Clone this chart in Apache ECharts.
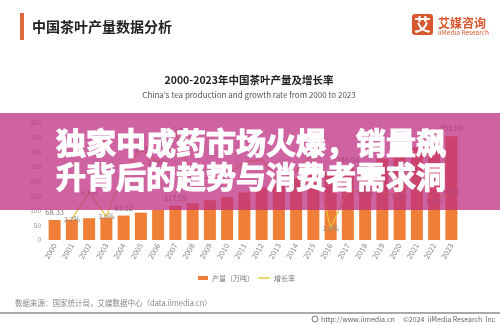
<!DOCTYPE html>
<html>
<head>
<meta charset="utf-8">
<script src="https://cdn.jsdelivr.net/npm/echarts@6/dist/echarts.min.js"></script>
<style>
  html, body { margin: 0; padding: 0; background: #fff; }
  #chart { width: 500px; height: 325px; }
</style>
</head>
<body>
<div id="chart"></div>
<script>
// Years on the category axis
const years = ['2000','2001','2002','2003','2004','2005','2006','2007','2008','2009','2010','2011',
               '2012','2013','2014','2015','2016','2017','2018','2019','2020','2021','2022','2023'];
// Tea output, 10k tonnes
const output = [68.33, 70.17, 74.54, 76.81, 83.52, 93.49, 102.81, 117.05, 125.76, 135.86, 147.51, 162.32,
                179.0, 192.45, 209.57, 227.8, 231.3, 246.04, 261.6, 277.72, 293.18, 316.4, 334.2, 355.00];
// Year-on-year growth, %
const growth = [null, 2.7, 6.1, 3.0, 8.7, 11.6, 10.0, 13.9, 7.9, 8.0, 8.3, 10.0,
                10.3, 7.5, 8.9, 11.1, 1.5, 6.4, 6.1, 6.2, 5.6, 8.0, 5.0, 6.2];
// Years whose values are printed on the chart
const outputLabelYears = ['2000', '2004', '2007', '2017', '2023'];
const growthLabelYears = ['2001', '2002', '2003', '2005', '2006', '2007', '2010', '2015', '2016', '2018', '2020', '2022', '2023'];
// Left axis range
const outputMin = 0, outputMax = 400, outputStep = 50;
const growthMax = 15;

const FONT = '"Noto Sans CJK SC", "Noto Sans", sans-serif';
const BAR = '#ef7f36';
const LINE = '#eac43a';
const BRAND = '#d9572f';

const barData = output.map((v, i) => ({
  value: v,
  label: { show: outputLabelYears.includes(years[i]) }
}));
const lineData = growth.map((v, i) => ({
  value: v,
  label: { show: v !== null && growthLabelYears.includes(years[i]) }
}));

const chart = echarts.init(document.getElementById('chart'), null, { renderer: 'canvas' });

// Bold headline text, thickened with a matching outline
function headline(text, y) {
  return { type: 'text', z: 101, style: { text, x: 56, y, fontSize: 30, fontWeight: 'bold',
    fontFamily: FONT, fill: '#fff', stroke: '#fff', lineWidth: 1.2,
    align: 'left', verticalAlign: 'middle' } };
}

chart.setOption({
  animation: false,
  textStyle: { fontFamily: FONT },
  grid: { left: 46, right: 40, top: 123, bottom: 85 },
  xAxis: {
    type: 'category',
    data: years,
    axisLine: { show: false },
    axisTick: { show: false },
    axisLabel: { rotate: 60, interval: 0, fontSize: 7.5, color: '#888', margin: 4, fontFamily: FONT }
  },
  yAxis: [
    {
      type: 'value', min: outputMin, max: outputMax, interval: outputStep,
      splitLine: { show: false },
      axisLine: { show: false },
      axisTick: { show: false },
      axisLabel: { fontSize: 6.5, color: '#999', margin: 5, fontFamily: FONT }
    },
    { type: 'value', min: 0, max: growthMax, show: false, splitLine: { show: false } }
  ],
  series: [
    {
      name: '产量（万吨）',
      type: 'bar',
      data: barData,
      barWidth: 12,
      itemStyle: { color: BAR },
      label: {
        position: 'top', distance: 4, fontSize: 7.5, color: '#777', fontFamily: FONT,
        formatter: p => p.value.toFixed(2)
      },
      z: 2
    },
    {
      name: '增长率',
      type: 'line',
      yAxisIndex: 1,
      data: lineData,
      symbol: 'circle',
      symbolSize: 0.1,
      itemStyle: { color: LINE },
      lineStyle: { color: LINE, width: 1.2 },
      label: {
        position: 'inside', fontSize: 7, color: '#888', fontFamily: FONT,
        formatter: p => p.value.toFixed(1) + '%'
      },
      z: 3
    }
  ],
  graphic: [
    // page header
    { type: 'rect', shape: { x: 20, y: 13, width: 4, height: 27 }, style: { fill: '#e0693c' } },
    { type: 'text', style: { text: '中国茶叶产量数据分析', x: 32, y: 27, fontSize: 14, fontWeight: 'bold',
        fontFamily: FONT, fill: '#222', align: 'left', verticalAlign: 'middle' } },
    // brand mark
    { type: 'rect', shape: { x: 412, y: 14, width: 21, height: 21, r: 3 }, style: { fill: BRAND } },
    { type: 'text', style: { text: '艾', x: 422.5, y: 24.5, fontSize: 17, fontWeight: 'bold',
        fontFamily: FONT, fill: '#fff', align: 'center', verticalAlign: 'middle' } },
    { type: 'text', style: { text: '艾媒咨询', x: 438, y: 23, fontSize: 12, fontWeight: 'bold',
        fontFamily: FONT, fill: BRAND, align: 'left', verticalAlign: 'middle' } },
    { type: 'text', style: { text: 'iiMedia Research', x: 438, y: 33, fontSize: 6.5,
        fontFamily: FONT, fill: BRAND, align: 'left', verticalAlign: 'middle' } },
    // chart titles
    { type: 'text', style: { text: '2000-2023年中国茶叶产量及增长率', x: 249, y: 80, fontSize: 10.5, fontWeight: 'bold',
        fontFamily: FONT, fill: '#222', align: 'center', verticalAlign: 'middle' } },
    { type: 'text', style: { text: "China's tea production and growth rate from 2000 to 2023", x: 249, y: 95, fontSize: 8,
        fontFamily: FONT, fill: '#555', align: 'center', verticalAlign: 'middle' } },
    // legend
    { type: 'rect', shape: { x: 198, y: 276, width: 10, height: 4 }, style: { fill: BAR } },
    { type: 'text', style: { text: '产量（万吨）', x: 212, y: 278, fontSize: 7,
        fontFamily: FONT, fill: '#777', align: 'left', verticalAlign: 'middle' } },
    { type: 'line', shape: { x1: 258, y1: 278, x2: 270, y2: 278 }, style: { stroke: LINE, lineWidth: 1.5 } },
    { type: 'text', style: { text: '增长率', x: 274, y: 278, fontSize: 7,
        fontFamily: FONT, fill: '#777', align: 'left', verticalAlign: 'middle' } },
    // source and footer
    { type: 'text', style: { text: '数据来源：国家统计局，艾媒数据中心（data.iimedia.cn）', x: 15, y: 303, fontSize: 7.5,
        fontFamily: FONT, fill: '#888', align: 'left', verticalAlign: 'middle' } },
    { type: 'line', shape: { x1: 0, y1: 313, x2: 500, y2: 313 }, style: { stroke: '#8c8c8c', lineWidth: 1.5 } },
    { type: 'circle', shape: { cx: 315, cy: 319, r: 3 }, style: { fill: 'none', stroke: '#777', lineWidth: 1 } },
    { type: 'text', style: { text: 'http://www.iimedia.cn', x: 321, y: 319.5, fontSize: 7,
        fontFamily: FONT, fill: '#666', align: 'left', verticalAlign: 'middle' } },
    { type: 'text', style: { text: '©2024  iiMedia Research  Inc', x: 403, y: 319.5, fontSize: 7,
        fontFamily: FONT, fill: '#666', align: 'left', verticalAlign: 'middle' } },
    // headline band across the chart
    { type: 'rect', z: 100, shape: { x: 0, y: 113, width: 500, height: 97 },
      style: { fill: 'rgba(190, 45, 130, 0.74)' } },
    headline('独家中成药市场火爆，销量飙', 143),
    headline('升背后的趋势与消费者需求洞', 177)
  ]
});
</script>
</body>
</html>
